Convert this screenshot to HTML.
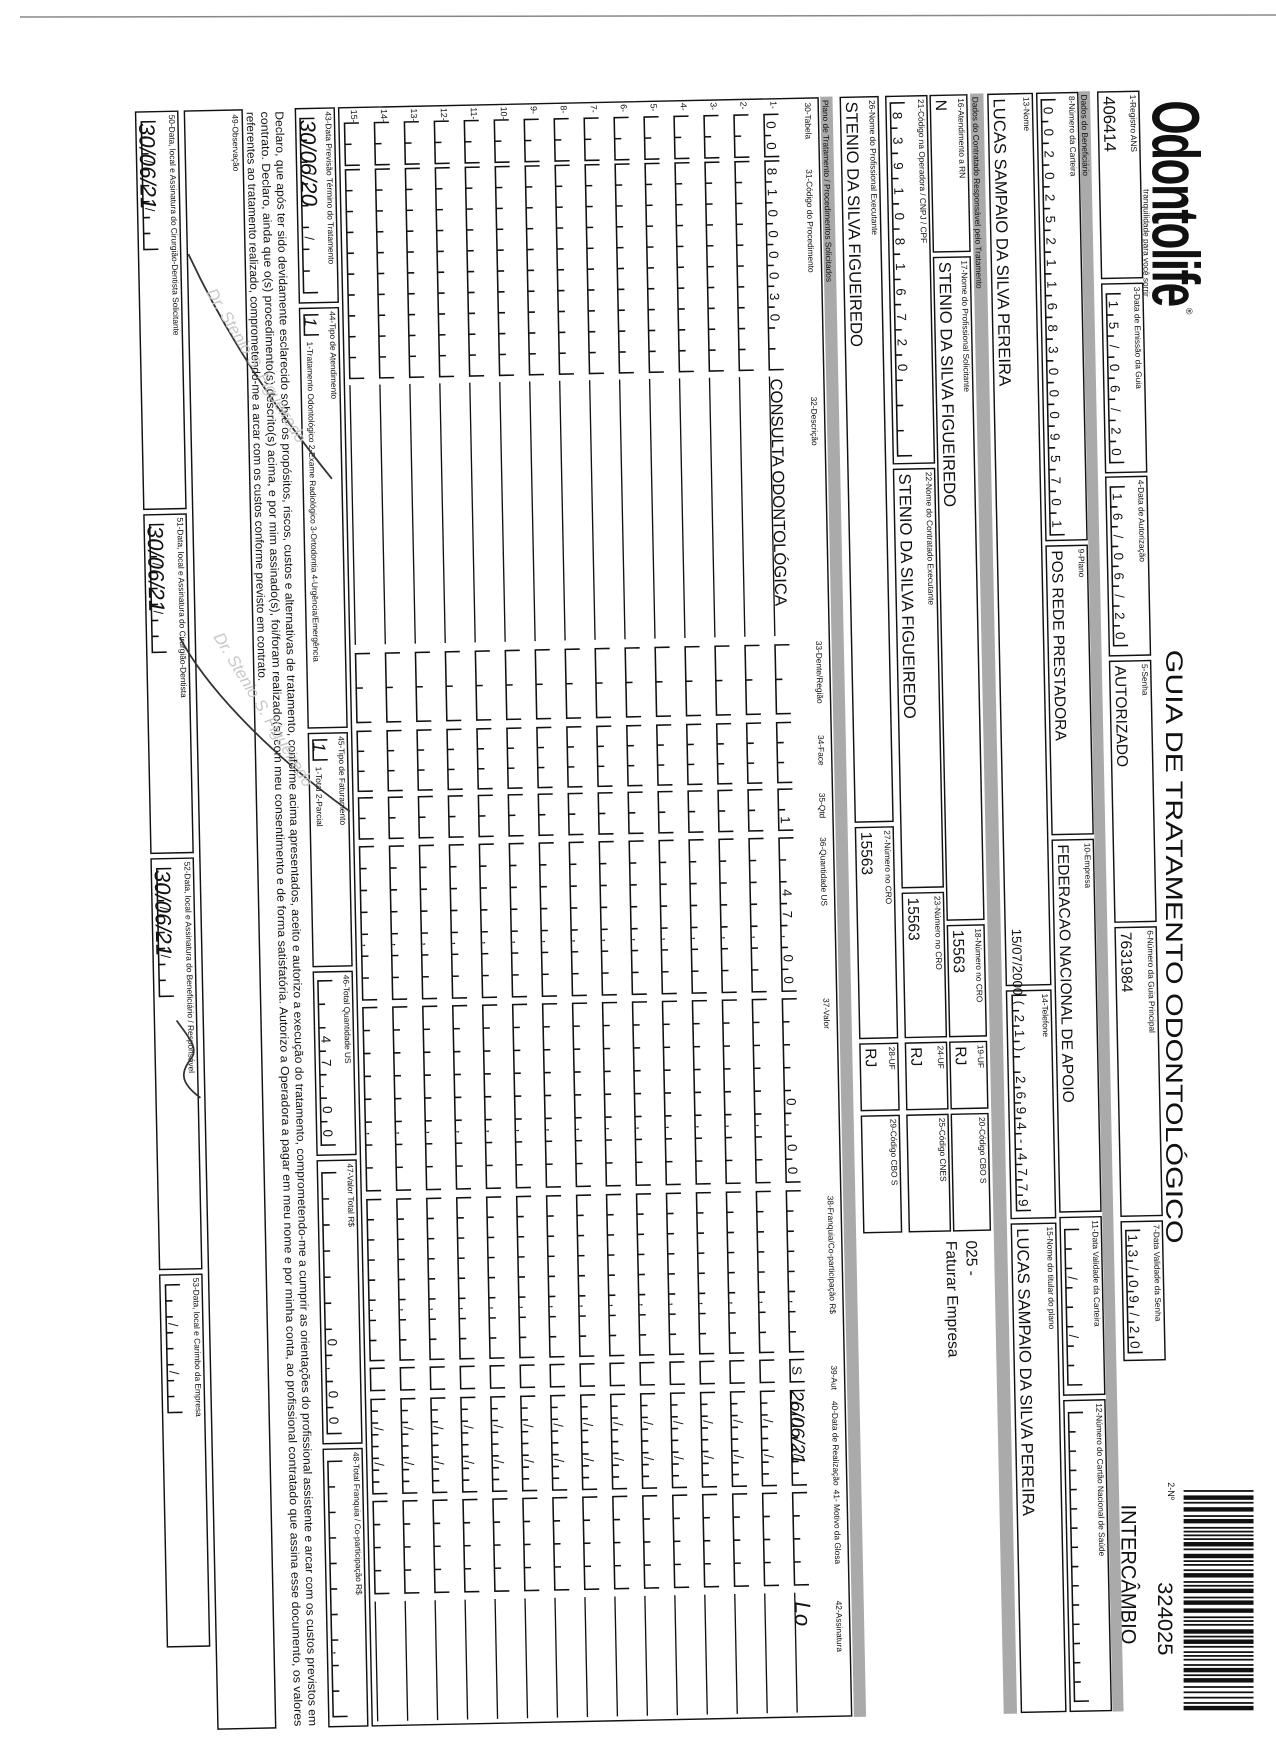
<!DOCTYPE html>
<html><head><meta charset="utf-8">
<style>
html,body{margin:0;padding:0;background:#fff;width:1276px;height:1755px;overflow:hidden}
svg{display:block}
text{font-family:"Liberation Sans",sans-serif;fill:#111}
</style></head>
<body>
<svg id="s" width="1276" height="1755" viewBox="0 0 1276 1755" xmlns="http://www.w3.org/2000/svg">
<line x1="20" y1="17" x2="1276" y2="15" stroke="#888" stroke-width="1.5"/>
<g transform="translate(7,6) scale(1.11)">
<g transform="translate(1276,0) rotate(90)">
<g id="outer"></g>
<g id="form" transform="rotate(-1.19 100 700)"></g>
</g></g>
</svg>
<script>
const W=[];
function P(d,sw){W.push(`<path d="${d}" fill="none" stroke="#111" stroke-width="${sw||1.3}"/>`);}
function R(x,y,w,h,sw){W.push(`<rect x="${x}" y="${y}" width="${w}" height="${h}" fill="none" stroke="#111" stroke-width="${sw||1.3}"/>`);}
function T(x,y,s,fs,a){W.push(`<text x="${x}" y="${y}" font-size="${fs||7.5}" ${a||''}>${s}</text>`);}
function C(x1,x2,yb,chars,h,fs){
  h=h||13;fs=fs||12;
  if(typeof chars==='number')chars=new Array(chars).fill('');
  if(typeof chars==='string')chars=chars.split('');
  const n=chars.length,cw=(x2-x1)/n;
  let d=`M${x1} ${yb-h}V${yb}H${x2}V${yb-h}`;
  for(let i=1;i<n;i++)d+=`M${(x1+i*cw).toFixed(1)} ${yb}v-6`;
  P(d,1.4);
  chars.forEach((c,i)=>{if(c&&c!==' ')T((x1+i*cw+cw/2).toFixed(1),yb-2,c,fs,'text-anchor="middle"');});
}
function F(x1,x2,y1,y2,label,val,vfs){
  R(x1+1,y1,x2-x1-2,y2-y1);
  T(x1+4,y1+8,label,7.5);
  if(val)T(x1+5,y2-5,val,vfs||14);
}
function B(y1,y2,label){
  W.push(`<rect x="85" y="${y1}" width="1460" height="${y2-y1}" fill="#aaa"/>`);
  T(88,y2-2,label,7.5);
}
let a=256,b=293;
F(85,255,a,b,'1-Registro ANS','406414',15);
F(258,430,a,b,'3-Data de Emissão da Guia');C(268,420,b-4,'15/06/20');
F(432,595,a,b,'4-Data de Autorização');C(442,585,b-4,'16/06/20');
F(598,835,a,b,'5-Senha','AUTORIZADO');
F(838,1100,a,b,'6-Número da Guia Principal','7631984');
F(1103,1230,a,b,'7-Data Validade da Senha');C(1112,1222,b-4,'13/09/20');
B(300,310,'Dados do Beneficiário');
a=311;b=348;
F(85,490,a,b,'8-Número da Carteira');C(92,484,b-4,'00202521168300095701');
F(493,755,a,b,'9-Plano','POS REDE PRESTADORA');
F(758,1095,a,b,'10-Empresa','FEDERACAO NACIONAL DE APOIO');
F(1098,1260,a,b,'11-Data Validade da Carteira');C(1110,1250,b-4,['','','/','','','/','','']);
F(1263,1545,a,b,'12-Número do Cartão Nacional de Saúde');C(1275,1535,b-4,15);
a=352;b=392;
F(85,890,a,b,'13-Nome','LUCAS SAMPAIO DA SILVA PEREIRA',15);
T(838,b-6,'15/07/2000',12);
F(893,1100,a,b,'14-Telefone');C(898,1092,b-5,['(','2','1',')','','2','6','9','4','-','4','7','7','9']);
F(1103,1545,a,b,'15-Nome do titular do plano','LUCAS SAMPAIO DA SILVA PEREIRA',15);
B(396,408,'Dados do Contratado Responsável pelo Tratamento');
a=411;b=444;
F(85,228,a,b,'16-Atendimento a RN','N');
F(231,830,a,b,'17-Nome do Profissional Solicitante','STENIO DA SILVA FIGUEIREDO',15);
F(833,935,a,b,'18-Número no CRO','15563');
F(938,1000,a,b,'19-UF','RJ');
F(1003,1110,a,b,'20-Código CBO S');
T(1118,a+22,'025 -',14);T(1118,a+40,'Faturar Empresa',14);
a=447;b=484;
F(85,418,a,b,'21-Código na Operadora / CNPJ / CPF');C(92,410,b-4,['8','3','9','1','0','8','1','6','7','2','0','','','']);
F(421,800,a,b,'22-Nome do Contratado Executante','STENIO DA SILVA FIGUEIREDO',15);
F(803,935,a,b,'23-Número no CRO','15563');
F(938,1000,a,b,'24-UF','RJ');
F(1003,1110,a,b,'25-Código CNES');
a=491;b=525;
F(85,740,a,b,'26-Nome do Profissional Executante','STENIO DA SILVA FIGUEIREDO',15);
F(743,935,a,b,'27-Número no CRO','15563');
F(938,1000,a,b,'28-UF','RJ');
F(1003,1110,a,b,'29-Código CBO S');
B(532,543,'Plano de Tratamento / Procedimentos Solicitados');
R(86,545,1458,432);
const hy=557;
[[90,'30-Tabela'],[150,'31-Código do Procedimento'],[355,'32-Descrição'],[575,'33-Dente/Região'],[660,'34-Face'],[712,'35-Qtd'],[752,'36-Quantidade US'],[897,'37-Valor'],[1075,'38-Franquia/Co-participação R$'],[1228,'39-Aut'],[1260,'40-Data de Realização'],[1340,'41- Motivo da Glosa'],[1440,'42-Assinatura']].forEach(([x,s])=>T(x,hy,s,7.5));
for(let i=0;i<15;i++){
  const c=584+27*i,yb=c+10,f=i===0;
  T(88,c+4,(i+1)+'-',8);
  C(100,138,yb,f?'00':2);
  C(142,330,yb,f?['8','1','0','0','0','0','3','0','','']:10);
  if(f)T(338,yb-1,'CONSULTA ODONTOLÓGICA',15);
  P(`M336 ${yb}H570`,1.2);
  C(578,640,yb,2);
  C(648,702,yb,3);
  C(708,745,yb,f?['','1']:2);
  C(752,890,yb,f?['','','4','7',',','0','0']:['','','','',',','','']);
  C(897,1062,yb,f?['','','','','0',',','0','0']:['','','','','',',','','']);
  C(1070,1215,yb,['','','','','',',','','']);
  C(1222,1242,yb,f?'S':1);
  C(1250,1335,yb,['','','/','','','/','','']);
  C(1342,1425,yb,4);
  P(`M1432 ${yb}H1540`,1.2);
}
a=981;b=1016;
F(85,262,a,b,'43-Data Previsão Término do Tratamento');C(95,252,b-4,['','','/','','','/','','']);
F(265,645,a,b,'44-Tipo de Atendimento');C(272,290,b-4,1);T(296,b-6,'1-Tratamento Odontológico  2-Exame Radiológico  3-Ortodontia  4-Urgência/Emergência',7.5);
F(648,860,a,b,'45-Tipo de Faturamento');C(655,673,b-4,1);T(679,b-6,'1-Total  2-Parcial',7.5);
F(863,1030,a,b,'46-Total Quantidade US');C(872,1020,b-4,['','','4','7',',','0','0']);
F(1033,1290,a,b,'47-Valor Total R$');C(1045,1280,b-4,['','','','','','','0',',','0','0']);
F(1293,1545,a,b,'48-Total Franquia / Co-participação R$');C(1305,1535,b-4,['','','','','','','',',','','']);
const d1='Declaro, que após ter sido devidamente esclarecido sobre os propósitos, riscos, custos e alternativas de tratamento, conforme acima apresentados, aceito e autorizo a execução do tratamento, comprometendo-me a cumprir as orientações do profissional assistente e arcar com os custos previstos em';
const d2='contrato. Declaro, ainda que o(s) procedimento(s) descrito(s) acima, e por mim assinado(s), foi/foram realizado(s) com meu consentimento e de forma satisfatória. Autorizo a Operadora a pagar em meu nome e por minha conta, ao profissional contratado que assina esse documento, os valores';
T(88,1034,d1,10.5,'textLength="1455" lengthAdjust="spacingAndGlyphs"');
T(88,1047,d2,10.5,'textLength="1455" lengthAdjust="spacingAndGlyphs"');
T(88,1060,'referentes ao tratamento realizado, comprometendo-me a arcar com os custos conforme previsto em contrato.',10.5);
R(86,1064,1458,52);T(90,1073,'49-Observação',7.5);
a=1122;b=1160;
F(85,445,a,b,'50-Data, local e Assinatura do Cirurgião-Dentista Solicitante');C(95,210,b-5,['','','/','','','/','','']);
F(448,755,a,b,'51-Data, local e Assinatura do Cirurgião-Dentista');C(458,573,b-5,['','','/','','','/','','']);
F(758,1130,a,b,'52-Data, local e Assinatura do Beneficiário / Responsável');C(768,883,b-5,['','','/','','','/','','']);
F(1133,1470,a,b,'53-Data, local e Carimbo da Empresa');C(1143,1258,b-5,['','','/','','','/','','']);
const hw='font-family="DejaVu Sans, sans-serif" font-style="italic" fill="#222"';
W.push(`<text x="1250" y="594" font-size="17" ${hw}>26/06/21</text>`);
W.push(`<text x="1440" y="594" font-size="20" ${hw}>Lo</text>`);
W.push(`<text x="96" y="1012" font-size="20" ${hw}>30/06/20</text>`);
W.push(`<text x="96" y="1157" font-size="20" ${hw}>30/06/21</text>`);
W.push(`<text x="459" y="1157" font-size="20" ${hw}>30/06/21</text>`);
W.push(`<text x="769" y="1157" font-size="20" ${hw}>30/06/21</text>`);
W.push(`<text x="274" y="1012" font-size="16" ${hw}>1</text><text x="657" y="1012" font-size="16" ${hw}>1</text>`);
W.push(`<path d="M215 1115 C260 1095 330 1060 420 990" stroke="#333" stroke-width="1.6" fill="none"/>`);
W.push(`<path d="M560 1130 C600 1110 660 1060 720 980" stroke="#333" stroke-width="1.6" fill="none"/>`);
W.push(`<path d="M905 1140 C920 1130 930 1120 940 1128 S960 1140 975 1120" stroke="#333" stroke-width="1.6" fill="none"/>`);
W.push(`<text x="250" y="1100" font-size="15" style="fill:#c8c8c8" font-style="italic" transform="rotate(-30 250 1100)">Dr. Stenio S. Figueiredo</text>`);
W.push(`<text x="560" y="1100" font-size="15" style="fill:#c8c8c8" font-style="italic" transform="rotate(-30 560 1100)">Dr. Stenio S. Figueiredo</text>`);
document.getElementById('form').innerHTML=W.join('');
const O=[];
O.push(`<text x="85" y="244" font-size="60" font-weight="bold" textLength="185" lengthAdjust="spacingAndGlyphs" fill="#333" style="letter-spacing:-2px">Odontolife</text>`);
O.push(`<text x="272" y="214" font-size="8">®</text>`);
O.push(`<text x="165" y="252" font-size="7.5">tranquilidade para você sorrir</text>`);
O.push(`<text x="580" y="232" font-size="22" textLength="535" lengthAdjust="spacingAndGlyphs">GUIA DE TRATAMENTO ODONTOLÓGICO</text>`);
O.push(`<text x="1330" y="230" font-size="8">2-Nº</text>`);
O.push(`<text x="1420" y="239" font-size="19" textLength="66" lengthAdjust="spacingAndGlyphs">324025</text>`);
O.push(`<text x="1350" y="272" font-size="19" textLength="126" lengthAdjust="spacingAndGlyphs">INTERCÂMBIO</text>`);
let x=1337,seed=7;
function rnd(){seed=(seed*9301+49297)%233280;return seed/233280;}
while(x<1533){const w=rnd()<0.35?4:1.6;O.push(`<rect x="${x.toFixed(1)}" y="153" width="${w}" height="63" fill="#111"/>`);x+=w+(rnd()<0.5?1.8:3.2);}
document.getElementById('outer').innerHTML=O.join('');
</script>
</body></html>
